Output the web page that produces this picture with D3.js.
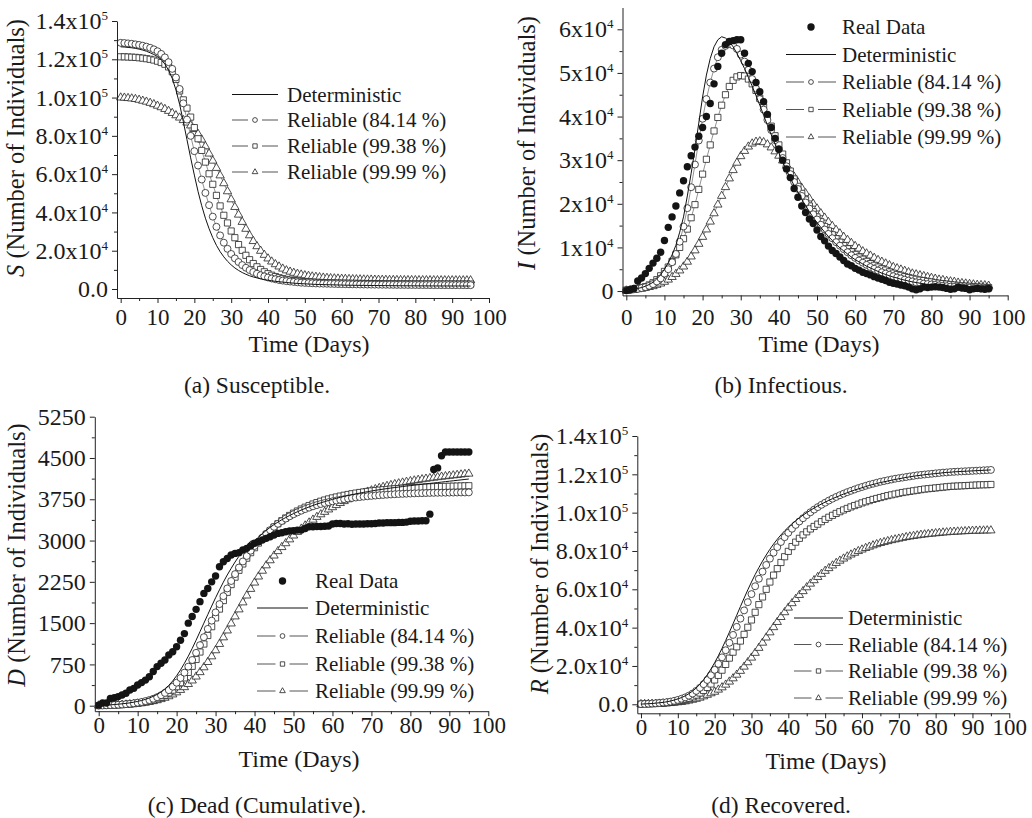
<!DOCTYPE html>
<html>
<head>
<meta charset="utf-8">
<script src="https://cdn.jsdelivr.net/npm/d3@7"></script>
<style>
body { margin: 0; background: #fff; }
svg text { font-family: "Liberation Serif", "Times New Roman", serif; fill: #1a1a1a; }
</style>
</head>
<body>
<svg id="chart" width="1032" height="818"></svg>
<script>
// days 0..95
const days = d3.range(0, 96);

const legendNames = {
    real: "Real Data",
    det: "Deterministic",
    r84: "Reliable (84.14 %)",
    r9938: "Reliable (99.38 %)",
    r9999: "Reliable (99.99 %)"
};

const xTicks = [0, 10, 20, 30, 40, 50, 60, 70, 80, 90, 100];
const xMinorTicks = [5, 15, 25, 35, 45, 55, 65, 75, 85, 95];

// ---- (a) Susceptible, thousands
const sDet = [126.5,126.4,126.2,126.0,125.7,125.3,124.8,124.2,123.4,122.5,
    121.5,119.8,117.5,114.3,110.0,104.0,96.5,87.5,78.0,68.5,
    59.5,51.0,43.5,37.0,31.5,26.8,22.8,19.5,16.8,14.5,
    12.6,11.0,9.7,8.6,7.7,6.9,6.3,5.8,5.3,4.9,
    4.6,4.3,4.0,3.8,3.6,3.4,3.2,3.05,2.9,2.8,
    2.7,2.6,2.5,2.4,2.35,2.3,2.25,2.2,2.15,2.1,
    2.05,2.0,1.98,1.95,1.92,1.9,1.88,1.86,1.84,1.82,
    1.8,1.78,1.76,1.74,1.72,1.7,1.69,1.68,1.67,1.66,
    1.65,1.64,1.63,1.62,1.61,1.6,1.6,1.59,1.59,1.58,
    1.58,1.57,1.57,1.56,1.56,1.55];
const sR84 = [128.6,128.5,128.3,128.1,127.8,127.5,127.1,126.6,126.0,125.2,
    124.2,122.8,121.0,118.5,115.0,110.5,104.5,97.0,88.5,80.0,
    72.0,64.5,57.2,50.2,43.8,37.8,32.5,28.0,24.2,21.0,
    18.3,16.0,14.1,12.5,11.1,9.9,8.9,8.0,7.2,6.6,
    6.0,5.5,5.1,4.7,4.4,4.1,3.9,3.7,3.5,3.3,
    3.2,3.1,3.0,2.9,2.85,2.8,2.75,2.7,2.65,2.6,
    2.55,2.5,2.47,2.44,2.41,2.38,2.35,2.32,2.3,2.28,
    2.26,2.24,2.22,2.2,2.18,2.16,2.15,2.14,2.13,2.12,
    2.11,2.1,2.09,2.08,2.07,2.06,2.05,2.05,2.04,2.04,
    2.03,2.03,2.02,2.02,2.01,2.0];
const sR9938 = [121.3,121.3,121.2,121.1,121.0,120.8,120.6,120.3,120.0,119.6,
    119.0,118.3,117.4,116.0,113.5,109.5,103.5,98.8,94.5,89.8,
    84.3,78.5,72.4,66.3,60.2,54.7,48.9,43.4,38.5,34.5,
    30.3,26.8,23.2,20.2,17.6,15.3,13.3,11.6,10.2,9.0,
    8.0,7.2,6.5,5.9,5.4,5.0,4.7,4.4,4.2,4.0,
    3.85,3.7,3.6,3.5,3.42,3.35,3.28,3.22,3.17,3.12,
    3.08,3.04,3.0,2.97,2.94,2.91,2.88,2.86,2.84,2.82,
    2.8,2.78,2.76,2.75,2.74,2.73,2.72,2.71,2.7,2.69,
    2.68,2.67,2.66,2.66,2.65,2.65,2.64,2.64,2.63,2.63,
    2.62,2.62,2.61,2.61,2.6,2.6];
const sR9999 = [100.0,99.9,99.7,99.5,99.2,98.8,98.3,97.8,97.2,96.5,
    95.7,94.9,94.0,93.0,91.9,90.7,89.5,88.2,86.9,85.4,
    83.5,81.0,78.0,74.5,70.7,67.0,63.2,59.3,55.2,51.0,
    46.8,42.8,38.8,35.0,31.4,28.0,25.0,22.3,19.9,17.8,
    15.9,14.3,12.9,11.7,10.6,9.7,9.0,8.4,7.9,7.5,
    7.1,6.8,6.5,6.3,6.1,5.9,5.75,5.6,5.5,5.4,
    5.3,5.22,5.15,5.08,5.02,4.97,4.92,4.88,4.84,4.8,
    4.77,4.74,4.71,4.68,4.66,4.64,4.62,4.6,4.59,4.58,
    4.57,4.56,4.55,4.54,4.53,4.52,4.52,4.51,4.51,4.5,
    4.5,4.5,4.49,4.49,4.48,4.48];

// ---- (b) Infectious, thousands
const iReal = [0.1,0.3,0.6,2.3,3.0,4.0,5.2,6.4,7.5,8.9,
    11.6,14.6,17.0,19.5,22.5,25.3,28.5,31.0,33.0,35.5,
    37.5,40.0,43.0,47.5,51.5,54.5,56.5,57.2,57.4,57.6,
    57.6,54.5,52.2,50.3,47.8,45.7,43.4,40.5,37.5,35.0,
    32.5,30.0,28.0,26.0,23.5,21.5,19.5,18.0,16.5,15.5,
    14.0,12.5,11.5,10.3,9.3,8.6,7.8,7.0,6.2,5.8,
    5.2,4.8,4.3,4.0,3.7,3.3,3.0,2.7,2.4,2.0,
    1.8,1.6,1.4,1.2,0.9,0.5,0.3,0.5,0.9,0.8,
    0.9,1.0,0.9,0.8,0.6,0.4,0.5,0.9,0.7,0.6,
    0.3,0.5,0.6,0.5,0.4,0.6];
const iDet = [0.2,0.3,0.4,0.6,0.8,1.1,1.5,2.0,2.8,3.7,
    5.0,6.5,8.3,10.5,13.5,17.0,21.8,27.0,32.5,38.5,
    44.5,49.5,53.3,56.0,57.6,58.3,58.0,57.2,56.0,54.5,
    52.8,51.0,49.0,47.0,44.8,42.6,40.3,38.0,35.8,33.7,
    31.6,29.6,27.7,25.9,24.2,22.6,21.0,19.6,18.2,16.9,
    15.7,14.6,13.5,12.5,11.6,10.7,9.9,9.2,8.5,7.8,
    7.2,6.7,6.2,5.7,5.3,4.9,4.5,4.1,3.8,3.5,
    3.2,3.0,2.7,2.5,2.3,2.1,1.95,1.8,1.65,1.5,
    1.4,1.3,1.2,1.1,1.0,0.95,0.9,0.8,0.75,0.7,
    0.65,0.6,0.55,0.5,0.48,0.45];
const iR84 = [0.2,0.3,0.4,0.5,0.7,0.9,1.2,1.6,2.2,2.9,
    4.0,5.0,6.6,8.5,11.3,14.8,19.0,23.8,29.0,34.5,
    39.5,44.0,47.8,51.0,53.6,55.3,56.2,56.6,56.3,55.5,
    54.2,52.6,50.7,48.6,46.4,44.0,41.6,39.2,36.9,34.6,
    32.5,30.5,28.6,26.8,25.0,23.4,21.8,20.3,18.9,17.6,
    16.4,15.2,14.1,13.1,12.1,11.2,10.4,9.6,8.9,8.2,
    7.6,7.0,6.5,6.0,5.5,5.1,4.7,4.3,4.0,3.7,
    3.4,3.1,2.9,2.6,2.4,2.2,2.0,1.9,1.7,1.6,
    1.5,1.4,1.3,1.2,1.1,1.0,0.95,0.9,0.85,0.8,
    0.75,0.7,0.65,0.6,0.55,0.5];
const iR9938 = [0.2,0.3,0.4,0.6,0.8,1.0,1.4,1.9,2.6,3.5,
    4.5,5.5,6.8,8.3,10.0,12.0,14.2,16.8,19.8,23.3,
    26.8,30.2,33.5,36.7,39.8,42.6,45.0,46.9,48.3,49.1,
    49.4,49.3,48.6,47.5,46.0,44.2,42.2,40.0,37.8,35.6,
    33.5,31.4,29.4,27.5,25.7,24.0,22.4,20.9,19.5,18.2,
    17.0,15.9,14.8,13.8,12.9,12.0,11.2,10.4,9.7,9.0,
    8.4,7.8,7.3,6.8,6.3,5.9,5.5,5.1,4.8,4.4,
    4.1,3.8,3.6,3.3,3.1,2.9,2.7,2.5,2.4,2.2,
    2.1,1.9,1.8,1.7,1.6,1.5,1.4,1.3,1.2,1.15,
    1.1,1.0,0.95,0.9,0.85,0.8];
const iR9999 = [0.1,0.2,0.3,0.4,0.5,0.7,0.9,1.1,1.4,1.7,
    2.1,2.6,3.2,3.9,4.7,5.6,6.7,7.9,9.3,10.8,
    12.4,14.1,15.9,17.8,19.8,21.8,23.8,25.8,27.7,29.4,
    30.9,32.1,33.1,33.8,34.2,34.3,34.1,33.6,32.9,32.0,
    31.0,29.9,28.7,27.5,26.2,24.9,23.6,22.4,21.2,20.0,
    18.9,17.8,16.8,15.8,14.9,14.0,13.2,12.4,11.7,11.0,
    10.3,9.7,9.1,8.6,8.1,7.6,7.1,6.7,6.3,5.9,
    5.5,5.2,4.9,4.6,4.3,4.0,3.8,3.6,3.4,3.2,
    3.0,2.8,2.6,2.5,2.3,2.2,2.1,1.9,1.8,1.7,
    1.6,1.5,1.4,1.35,1.3,1.2];

// ---- (c) Dead (cumulative), individuals
const dReal = [10,50,50,130,145,165,195,225,285,315,
    375,420,465,525,620,710,770,830,920,980,
    1070,1190,1310,1500,1620,1750,1890,2040,2130,2250,
    2355,2525,2615,2675,2737,2767,2780,2828,2858,2900,
    2950,2980,3010,3040,3070,3100,3130,3143,3160,3173,
    3180,3190,3190,3220,3250,3250,3255,3255,3260,3265,
    3300,3310,3310,3300,3305,3295,3300,3300,3300,3305,
    3305,3310,3320,3320,3325,3325,3325,3330,3330,3335,
    3350,3355,3355,3360,3360,3480,4290,4320,4540,4610,
    4610,4610,4610,4610,4610,4610];
const dDet = [5,8,12,16,21,27,34,42,52,64,
    78,95,115,140,170,205,250,305,370,450,
    545,650,770,900,1040,1190,1345,1500,1655,1810,
    1960,2105,2245,2375,2495,2610,2715,2810,2900,2990,
    2990,3060,3125,3185,3240,3290,3335,3378,3418,3455,
    3490,3523,3554,3583,3611,3637,3662,3685,3707,3728,
    3748,3767,3785,3802,3818,3833,3848,3862,3875,3888,
    3900,3912,3923,3934,3944,3954,3963,3972,3981,3990,
    3998,4006,4014,4022,4030,4038,4046,4054,4062,4070,
    4078,4086,4094,4102,4110,4118];
const dR84 = [3,5,7,10,13,17,22,28,35,44,
    55,68,84,103,126,155,190,232,283,345,
    418,503,600,710,830,960,1100,1245,1395,1545,
    1695,1845,1990,2130,2265,2390,2510,2620,2720,2815,
    2900,2980,3055,3125,3190,3250,3305,3355,3400,3440,
    3478,3512,3543,3572,3598,3622,3644,3664,3682,3698,
    3713,3727,3740,3752,3763,3773,3782,3790,3798,3805,
    3811,3817,3823,3828,3833,3837,3841,3845,3848,3851,
    3854,3857,3859,3861,3863,3865,3867,3868,3869,3870,
    3871,3872,3873,3874,3874,3875];
const dR9938 = [2,4,6,8,11,14,18,23,29,36,
    45,55,68,84,103,126,155,190,232,283,
    345,418,505,605,715,840,975,1120,1275,1435,
    1595,1755,1910,2060,2200,2335,2460,2575,2680,2780,
    2870,2955,3035,3110,3180,3245,3305,3360,3410,3456,
    3498,3537,3573,3606,3636,3664,3690,3714,3736,3756,
    3775,3792,3808,3823,3837,3850,3862,3873,3883,3892,
    3901,3909,3916,3923,3929,3935,3940,3945,3950,3954,
    3958,3962,3965,3968,3971,3974,3977,3980,3982,3984,
    3986,3988,3990,3992,3994,3996];
const dR9999 = [2,3,5,7,9,12,15,19,24,30,
    37,45,55,67,81,98,118,142,170,203,
    241,285,335,392,456,528,608,696,792,895,
    1005,1120,1240,1365,1492,1620,1748,1875,2000,2120,
    2235,2345,2450,2548,2640,2726,2806,2880,2950,3020,
    3090,3155,3215,3272,3326,3378,3428,3475,3520,3563,
    3604,3643,3680,3715,3748,3779,3808,3836,3862,3887,
    3910,3932,3953,3972,3990,4007,4023,4038,4052,4065,
    4078,4090,4101,4112,4122,4132,4141,4150,4159,4167,
    4175,4183,4191,4199,4207,4214];

// ---- (d) Recovered, thousands
const rDet = [0.1,0.2,0.3,0.4,0.6,0.8,1.0,1.3,1.7,2.2,
    2.8,3.5,4.4,5.5,6.9,8.5,10.5,12.8,15.4,18.4,
    21.7,25.3,29.2,33.3,37.6,42.0,46.5,51.0,55.4,59.7,
    63.8,67.7,71.3,74.7,77.9,80.9,83.6,86.1,88.4,90.5,
    92.4,94.2,95.8,97.3,98.7,100.0,101.2,102.4,103.5,104.5,
    105.5,106.4,107.3,108.1,108.9,109.7,110.4,111.1,111.8,112.4,
    113.0,113.6,114.2,114.7,115.2,115.7,116.1,116.5,116.9,117.3,
    117.7,118.0,118.4,118.7,119.0,119.3,119.5,119.8,120.0,120.2,
    120.4,120.6,120.8,121.0,121.1,121.3,121.4,121.5,121.6,121.7,
    121.8,121.9,122.0,122.1,122.2,122.3];
const rR84 = [0.1,0.2,0.3,0.4,0.5,0.7,0.9,1.1,1.4,1.8,
    2.3,2.9,3.6,4.5,5.6,7.0,8.6,10.5,12.7,15.2,
    18.0,21.1,24.5,28.2,32.1,36.2,40.4,44.7,49.0,53.3,
    57.5,61.6,65.5,69.2,72.7,76.0,79.1,82.0,84.7,87.2,
    89.5,91.6,93.6,95.4,97.1,98.7,100.2,101.6,102.9,104.1,
    105.2,106.3,107.3,108.2,109.1,109.9,110.7,111.4,112.1,112.8,
    113.4,114.0,114.6,115.1,115.6,116.1,116.5,116.9,117.3,117.7,
    118.0,118.3,118.6,118.9,119.2,119.5,119.7,119.9,120.1,120.3,
    120.5,120.7,120.9,121.0,121.2,121.3,121.4,121.5,121.6,121.7,
    121.8,121.9,122.0,122.1,122.2,122.3];
const rR9938 = [0.1,0.15,0.2,0.3,0.4,0.5,0.6,0.8,1.0,1.3,
    1.6,2.0,2.5,3.1,3.9,4.8,5.9,7.2,8.8,10.6,
    12.7,15.1,17.8,20.8,24.1,27.2,30.0,33.0,36.5,40.2,
    44.0,48.0,52.0,56.0,60.0,63.8,67.4,70.8,74.0,77.0,
    79.8,82.3,84.6,86.6,88.4,90.0,91.5,92.8,94.0,95.3,
    96.5,97.6,98.6,99.6,100.5,101.4,102.2,103.0,103.7,104.4,
    105.1,105.7,106.3,106.9,107.4,107.9,108.4,108.9,109.3,109.7,
    110.1,110.5,110.8,111.1,111.4,111.7,112.0,112.3,112.5,112.7,
    112.9,113.1,113.3,113.5,113.7,113.8,113.9,114.0,114.1,114.2,
    114.3,114.4,114.5,114.55,114.6,114.7];
const rR9999 = [0.05,0.1,0.15,0.2,0.25,0.3,0.4,0.5,0.6,0.8,
    1.0,1.2,1.5,1.9,2.3,2.8,3.4,4.1,4.9,5.7,
    6.5,7.6,8.8,10.2,11.8,13.5,15.4,17.4,19.6,21.9,
    24.3,26.8,29.4,32.1,34.8,37.5,40.2,42.9,45.5,48.0,
    50.4,52.7,54.9,57.0,59.0,61.0,62.9,64.7,66.4,68.0,
    69.6,71.0,72.4,73.7,74.9,76.0,77.1,78.1,79.0,79.9,
    80.7,81.5,82.2,82.9,83.5,84.1,84.6,85.1,85.6,86.0,
    86.4,86.8,87.2,87.5,87.8,88.1,88.4,88.6,88.8,89.0,
    89.2,89.4,89.6,89.7,89.9,90.0,90.1,90.2,90.3,90.4,
    90.5,90.55,90.6,90.65,90.7,90.7];

// y tick values and labels ([mantissa, exponent])
const sTicks = [0, 20, 40, 60, 80, 100, 120, 140];
const sTickLabels = [["0.0",""],["2.0x10","4"],["4.0x10","4"],["6.0x10","4"],["8.0x10","4"],["1.0x10","5"],["1.2x10","5"],["1.4x10","5"]];
const sMinor = [10, 30, 50, 70, 90, 110, 130];
const iTicks = [0, 10, 20, 30, 40, 50, 60];
const iTickLabels = [["0",""],["1x10","4"],["2x10","4"],["3x10","4"],["4x10","4"],["5x10","4"],["6x10","4"]];
const iMinor = [5, 15, 25, 35, 45, 55];
const dTicks = [0, 750, 1500, 2250, 3000, 3750, 4500, 5250];
const dTickLabels = [["0",""],["750",""],["1500",""],["2250",""],["3000",""],["3750",""],["4500",""],["5250",""]];
const dMinor = [375, 1125, 1875, 2625, 3375, 4125, 4875];
const rTicks = sTicks;
const rTickLabels = sTickLabels;
const rMinor = sMinor;

const symbols = { r84: d3.symbolCircle, r9938: d3.symbolSquare, r9999: d3.symbolTriangle };
const symbolSize = { r84: 38, r9938: 38, r9999: 30 };
const legendSymbolSize = { r84: 18, r9938: 19, r9999: 14 };

const panels = [
    { xRange: [117, 489], yDomain: [-4.7, 140], yRange: [298, 21],
      yTicks: sTicks, yLabels: sTickLabels, yMinor: sMinor, xLabelY: 325,
      yTitle: "S", yTitlePos: [24, 148], xTitlePos: [309, 352],
      caption: "(a) Susceptible.", captionPos: [257, 393],
      series: { det: sDet, r84: sR84, r9938: sR9938, r9999: sR9999 },
      legend: { keys: ["det", "r84", "r9938", "r9999"], x0: 232, x1: 278, tx: 287, rows: [101.5, 127, 153, 179] } },
    { xRange: [622.5, 1007.7], yDomain: [-1, 65], yRange: [295.4, 7.5],
      yTicks: iTicks, yLabels: iTickLabels, yMinor: iMinor, xLabelY: 325,
      yTitle: "I", yTitlePos: [535, 143], xTitlePos: [819, 352],
      caption: "(b) Infectious.", captionPos: [781, 393],
      series: { real: iReal, det: iDet, r84: iR84, r9938: iR9938, r9999: iR9999 },
      legend: { keys: ["real", "det", "r84", "r9938", "r9999"], x0: 786, x1: 836, tx: 842, rows: [34, 61.5, 89, 116.5, 144] } },
    { xRange: [94.8, 488.3], yDomain: [-100, 5250], yRange: [711.2, 416.7],
      yTicks: dTicks, yLabels: dTickLabels, yMinor: dMinor, xLabelY: 733,
      yTitle: "D", yTitlePos: [25, 555], xTitlePos: [299, 767],
      caption: "(c) Dead (Cumulative).", captionPos: [257, 813],
      series: { real: dReal, det: dDet, r84: dR84, r9938: dR9938, r9999: dR9999 },
      legend: { keys: ["real", "det", "r84", "r9938", "r9999"], x0: 257, x1: 308, tx: 315, rows: [588, 615, 643, 671, 698] } },
    { xRange: [637.3, 1009.3], yDomain: [-4.7, 140], yRange: [713.3, 436],
      yTicks: rTicks, yLabels: rTickLabels, yMinor: rMinor, xLabelY: 735,
      yTitle: "R", yTitlePos: [548, 564], xTitlePos: [826, 769],
      caption: "(d) Recovered.", captionPos: [781, 813],
      series: { det: rDet, r84: rR84, r9938: rR9938, r9999: rR9999 },
      legend: { keys: ["det", "r84", "r9938", "r9999"], x0: 794, x1: 843, tx: 848, rows: [625, 651.5, 678, 705] } }
];

function styleAxis(a, size) {
    a.attr("font-size", size || 24).attr("font-family", null);
    a.selectAll("line, path").attr("stroke", "#222").attr("stroke-width", 1);
}

function drawAxes(g, p, x, y) {
    let x0 = p.xRange[0], y0 = p.yRange[0];

    g.append("g").attr("transform", `translate(0,${y0})`)
        .call(d3.axisBottom(x).tickValues(xMinorTicks).tickSize(3).tickFormat(""))
        .call(a => a.select(".domain").remove())
        .call(styleAxis);
    let xa = g.append("g").attr("transform", `translate(0,${y0})`)
        .call(d3.axisBottom(x).tickValues(xTicks).tickSize(5).tickSizeOuter(0).tickFormat(d3.format("d")))
        .call(a => styleAxis(a, 23));
    xa.selectAll(".tick text").attr("y", p.xLabelY - y0).attr("dy", 0);

    g.append("g").attr("transform", `translate(${x0},0)`)
        .call(d3.axisLeft(y).tickValues(p.yMinor).tickSize(3).tickFormat(""))
        .call(a => a.select(".domain").remove())
        .call(styleAxis);
    let ya = g.append("g").attr("transform", `translate(${x0},0)`)
        .call(d3.axisLeft(y).tickValues(p.yTicks).tickSize(5).tickSizeOuter(0).tickPadding(4).tickFormat(""))
        .call(styleAxis);
    ya.selectAll(".tick text").each(function(d) {
        let lab = p.yLabels[p.yTicks.indexOf(d)];
        let t = d3.select(this).text(lab[0]);
        if (lab[1]) t.append("tspan").attr("font-size", 13).attr("dy", -9).text(lab[1]);
    });

    // axis titles and caption
    g.append("text")
        .attr("transform", `translate(${p.yTitlePos[0]},${p.yTitlePos[1]}) rotate(-90)`)
        .attr("text-anchor", "middle").attr("font-size", 24.5)
        .call(t => {
            t.append("tspan").attr("font-style", "italic").text(p.yTitle);
            t.append("tspan").text(" (Number of Individuals)");
        });
    g.append("text").attr("x", p.xTitlePos[0]).attr("y", p.xTitlePos[1])
        .attr("text-anchor", "middle").attr("font-size", 24).text("Time (Days)");
    g.append("text").attr("x", p.captionPos[0]).attr("y", p.captionPos[1])
        .attr("text-anchor", "middle").attr("font-size", 23.5).text(p.caption);
}

function drawSeries(g, p, x, y) {
    let line = d3.line().x((d, i) => x(days[i])).y(d => y(d));
    let order = ["r9999", "r9938", "r84"];

    order.forEach(k => {
        if (!p.series[k]) return;
        g.append("path").attr("d", line(p.series[k]))
            .attr("fill", "none").attr("stroke", "#777").attr("stroke-width", 0.8);
    });
    order.forEach(k => {
        if (!p.series[k]) return;
        g.append("g").selectAll("path")
            .data(p.series[k])
            .enter().append("path")
            .attr("transform", (d, i) => `translate(${x(days[i])},${y(d)})`)
            .attr("d", d3.symbol().type(symbols[k]).size(symbolSize[k]))
            .attr("fill", "#fff").attr("stroke", "#222").attr("stroke-width", 0.8);
    });

    g.append("path").attr("d", line(p.series.det))
        .attr("fill", "none").attr("stroke", "#111").attr("stroke-width", 1);

    if (p.series.real) {
        g.append("g").selectAll("circle")
            .data(p.series.real)
            .enter().append("circle")
            .attr("cx", (d, i) => x(days[i]))
            .attr("cy", d => y(d))
            .attr("r", 3.7)
            .attr("fill", "#141414");
    }
}

function drawLegend(g, p) {
    let L = p.legend;
    let mid = (L.x0 + L.x1) / 2;
    L.keys.forEach((k, i) => {
        let yy = L.rows[i] - 7;
        let row = g.append("g");
        if (k === "det") {
            row.append("line").attr("x1", L.x0).attr("x2", L.x1).attr("y1", yy).attr("y2", yy)
                .attr("stroke", "#111").attr("stroke-width", 1);
        } else if (k === "real") {
            row.append("circle").attr("cx", mid).attr("cy", yy).attr("r", 3.7).attr("fill", "#141414");
        } else {
            row.append("line").attr("x1", L.x0).attr("x2", mid - 7).attr("y1", yy).attr("y2", yy)
                .attr("stroke", "#555").attr("stroke-width", 1);
            row.append("line").attr("x1", mid + 7).attr("x2", L.x1).attr("y1", yy).attr("y2", yy)
                .attr("stroke", "#555").attr("stroke-width", 1);
            row.append("path").attr("transform", `translate(${mid},${yy})`)
                .attr("d", d3.symbol().type(symbols[k]).size(legendSymbolSize[k]))
                .attr("fill", "#fff").attr("stroke", "#222").attr("stroke-width", 0.8);
        }
        row.append("text").attr("x", L.tx).attr("y", L.rows[i])
            .attr("font-size", 21).text(legendNames[k]);
    });
}

function drawPanel(p) {
    let g = d3.select("#chart").append("g");
    let x = d3.scaleLinear().domain([-1, 100]).range(p.xRange);
    let y = d3.scaleLinear().domain(p.yDomain).range(p.yRange);
    drawSeries(g, p, x, y);
    drawAxes(g, p, x, y);
    drawLegend(g, p);
}

panels.forEach(drawPanel);
</script>
</body>
</html>
